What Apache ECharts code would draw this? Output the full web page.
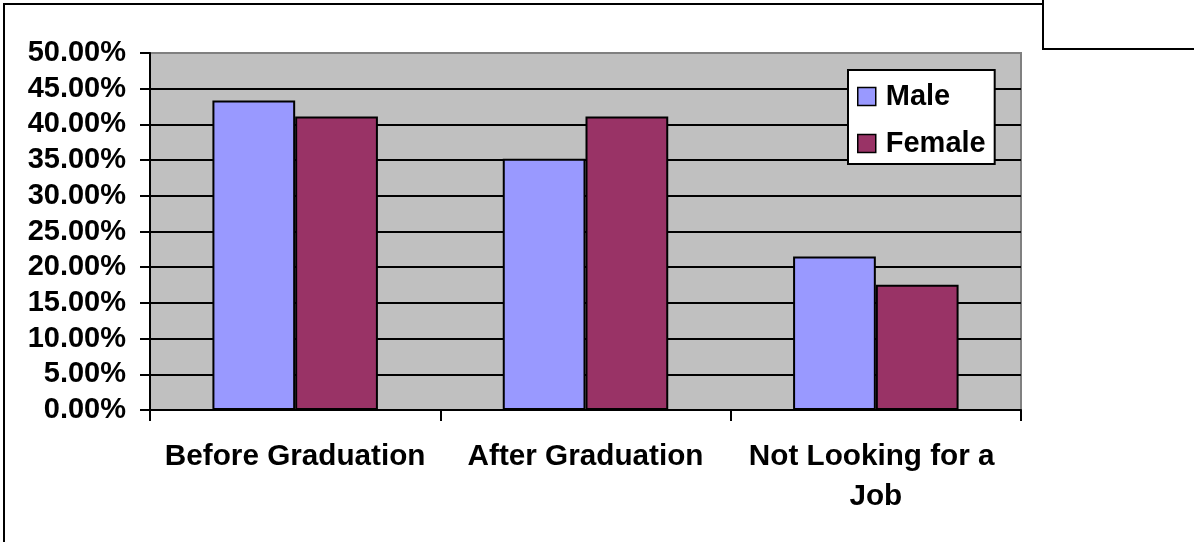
<!DOCTYPE html>
<html>
<head>
<meta charset="utf-8">
<script src="https://cdn.jsdelivr.net/npm/echarts@6/dist/echarts.min.js"></script>
<style>
html,body{margin:0;padding:0;background:#fff;}
#chart{width:1194px;height:542px;}
</style>
</head>
<body>
<div id="chart"></div>
<script>
const categories = ['Before Graduation', 'After Graduation', 'Not Looking for a Job'];
const maleValues = [43.35, 35.2, 21.5];
const femaleValues = [41.1, 41.1, 17.55];
const seriesNames = ['Male', 'Female'];

const FONT = '"Liberation Sans", Arial, sans-serif';
const chart = echarts.init(document.getElementById('chart'), null, {renderer: 'canvas'});
chart.setOption({
  animation: false,
  backgroundColor: '#ffffff',
  grid: {
    left: 150, top: 53, right: 173, bottom: 132,
    show: true, backgroundColor: '#C0C0C0', borderColor: '#808080', borderWidth: 2
  },
  legend: {
    orient: 'vertical',
    left: 848, top: 70,
    padding: [12, 9, 6, 9],
    backgroundColor: '#ffffff',
    borderColor: '#000000', borderWidth: 2, borderRadius: 0,
    itemWidth: 18, itemHeight: 18, itemGap: 18,
    icon: 'rect',
    itemStyle: {borderColor: '#000', borderWidth: 1.5},
    textStyle: {fontFamily: FONT, fontWeight: 'bold', fontSize: 29, color: '#000', lineHeight: 28, padding: [0, 0, 0, 5]},
    data: seriesNames
  },
  xAxis: {
    type: 'category',
    data: categories,
    axisLine: {lineStyle: {color: '#000', width: 2}},
    axisTick: {show: true, length: 11, lineStyle: {color: '#000', width: 2}},
    axisLabel: {
      interval: 0, margin: 27, color: '#000', fontFamily: FONT, fontWeight: 'bold', fontSize: 29.7,
      lineHeight: 40, width: 285, overflow: 'break'
    },
    splitLine: {show: false}
  },
  yAxis: {
    type: 'value', min: 0, max: 50, interval: 5,
    axisLine: {show: true, lineStyle: {color: '#000', width: 2}},
    axisTick: {show: true, length: 10, lineStyle: {color: '#000', width: 2}},
    axisLabel: {
      margin: 24, color: '#000', fontFamily: FONT, fontWeight: 'bold', fontSize: 29,
      formatter: v => v.toFixed(2) + '%'
    },
    splitLine: {show: true, showMaxLine: false, lineStyle: {color: '#000', width: 2}}
  },
  series: [
    {
      name: seriesNames[0], type: 'bar', data: maleValues,
      barGap: '0%', barCategoryGap: '43%',
      itemStyle: {color: '#9999FF', borderColor: '#000', borderWidth: 2}
    },
    {
      name: seriesNames[1], type: 'bar', data: femaleValues,
      barGap: '0%', barCategoryGap: '43%',
      itemStyle: {color: '#993366', borderColor: '#000', borderWidth: 2}
    }
  ],
  graphic: [
    {type: 'polyline', shape: {points: [[4, 560], [4, 4], [1043, 4]]}, style: {stroke: '#000', lineWidth: 2, fill: null}, silent: true},
    {type: 'rect', shape: {x: 1043, y: -10, width: 200, height: 59}, style: {stroke: '#000', lineWidth: 2, fill: '#fff'}, silent: true}
  ]
});
</script>
</body>
</html>
